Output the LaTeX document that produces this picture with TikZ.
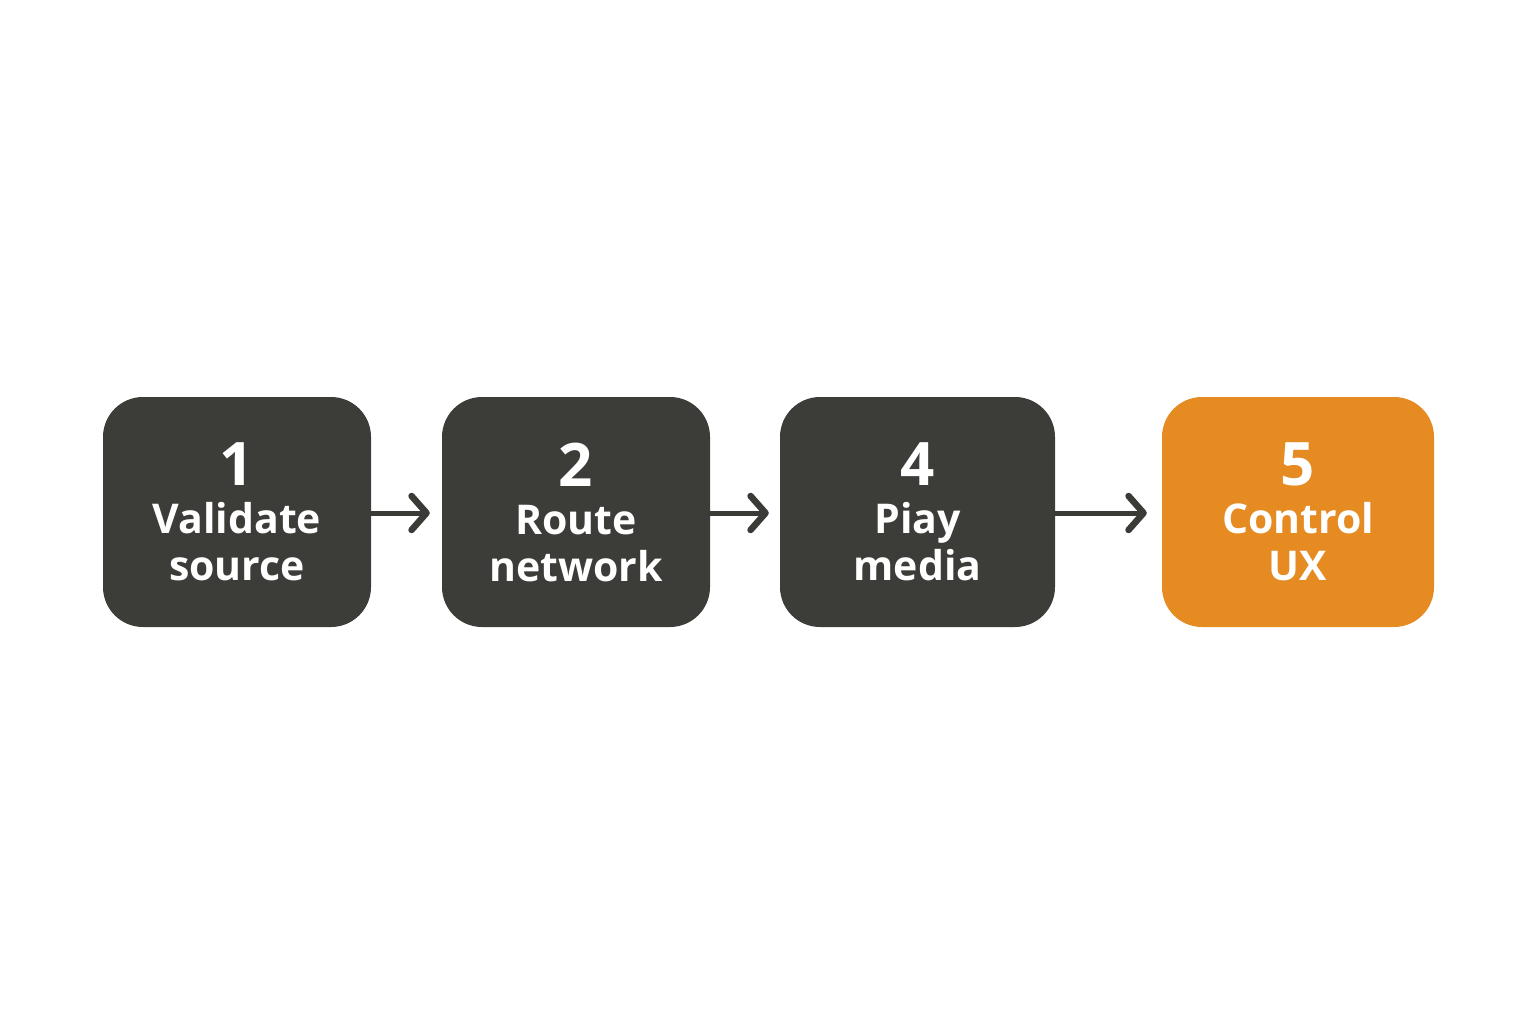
\documentclass[tikz,border=0pt]{standalone}
\usepackage{fontspec}
\setmainfont{Open Sans}
\usetikzlibrary{arrows.meta}
\definecolor{boxdark}{HTML}{3C3C38}
\definecolor{boxorange}{HTML}{E68A22}
\definecolor{arrowdark}{HTML}{3A3A36}
\tikzset{
  stepbox/.style={rounded corners=40pt, minimum height=230pt, inner sep=0pt, align=center,
    text=white, font=\bfseries\fontsize{41}{47}\selectfont},
  darkbox/.style={stepbox, fill=boxdark},
  orangebox/.style={stepbox, fill=boxorange},
  flow/.style={draw=arrowdark, line width=5pt, line cap=round,
    -{Straight Barb[length=15pt, width=34pt, line width=6.5pt, round]}}
}
\newcommand{\stepnum}[1]{{\fontsize{60}{60}\selectfont #1}\\[1pt]}
\begin{document}
\begin{tikzpicture}[x=1pt,y=-1pt]
\useasboundingbox (0,0) rectangle (1536,1024);
\node[darkbox, minimum width=268pt] (s1) at (237,512) {\stepnum{1}Validate\\source};
\node[darkbox, minimum width=268pt] (s2) at (576,512) {\stepnum{2}Route\\network};
\node[darkbox, minimum width=275pt] (s3) at (917.5,512) {\stepnum{4}Piay\\media};
\node[orangebox, minimum width=272pt] (s4) at (1298,512) {\stepnum{5}Control\\UX};
\draw[flow, shorten >=12pt] (s1.east |- 0,513) -- (s2.west |- 0,513);
\draw[flow, shorten >=11pt] (s2.east |- 0,513) -- (s3.west |- 0,513);
\draw[flow, shorten >=15pt] (s3.east |- 0,513) -- (s4.west |- 0,513);
\end{tikzpicture}
\end{document}
